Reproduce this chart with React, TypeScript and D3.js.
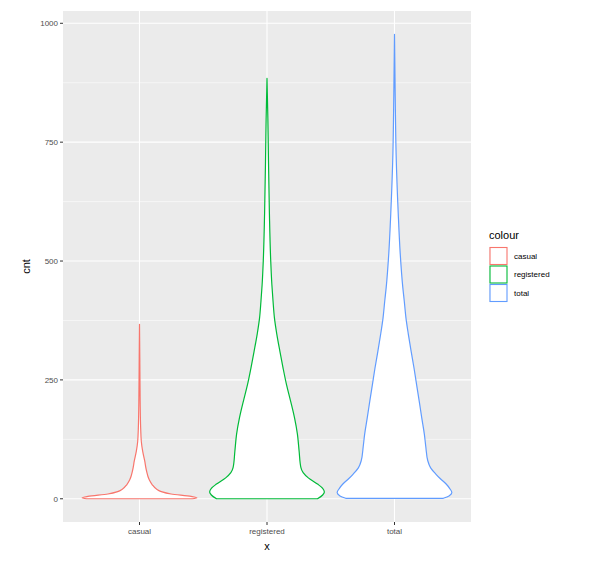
import React from "react";
import * as d3 from "d3";

const categories = ["casual", "registered", "total"];
const colors = ["#F8766D", "#00BA38", "#619CFF"];
const yTicks = [0, 250, 500, 750, 1000];
const yMinorTicks = [125, 375, 625, 875];
const dataMin = 0;
const dataMax = 977;

// density profile: value, relative half-width
const casualVals = [0, 2, 5, 10, 15, 20, 30, 40, 60, 80, 100, 120, 150, 200, 250, 300, 367];
const casualWidth = [0.92, 1.0, 0.9, 0.55, 0.38, 0.3, 0.22, 0.17, 0.12, 0.09, 0.055, 0.032, 0.02, 0.012, 0.008, 0.005, 0];

const registeredVals = [0, 8, 14, 22, 31, 44, 55, 66, 100, 136, 170, 206, 240, 275, 310, 347, 380, 416, 450, 500, 600, 710, 800, 884];
const registeredWidth = [0.88, 0.97, 1.0, 0.97, 0.88, 0.72, 0.63, 0.59, 0.56, 0.53, 0.48, 0.41, 0.34, 0.28, 0.225, 0.17, 0.13, 0.105, 0.085, 0.065, 0.042, 0.026, 0.015, 0];

const totalVals = [1, 6, 13, 22, 31, 42, 52, 65, 80, 110, 136, 170, 206, 240, 275, 310, 347, 380, 416, 444, 515, 600, 725, 850, 977];
const totalWidth = [0.85, 0.95, 1.0, 0.96, 0.9, 0.8, 0.72, 0.63, 0.58, 0.545, 0.52, 0.475, 0.43, 0.385, 0.34, 0.29, 0.24, 0.2, 0.17, 0.145, 0.1, 0.065, 0.028, 0.012, 0];

const profiles = [
  { vals: casualVals, widths: casualWidth },
  { vals: registeredVals, widths: registeredWidth },
  { vals: totalVals, widths: totalWidth },
];

const W = 596;
const H = 569;
const panel = { left: 63, right: 471, top: 11, bottom: 522 };
const font = "'Liberation Sans', Arial, Helvetica, sans-serif";

export default function App() {
  const span = dataMax - dataMin;
  const y = d3
    .scaleLinear()
    .domain([dataMin - span * 0.05, dataMax + span * 0.05])
    .range([panel.bottom, panel.top]);
  const x = d3
    .scalePoint<string>()
    .domain(categories)
    .range([panel.left, panel.right])
    .padding(0.6);
  const halfMax = x.step() * 0.45;

  return (
    <svg
      width={W}
      height={H}
      style={{ position: "absolute", left: 0, top: 0, background: "#fff" }}
      fontFamily={font}
    >
      <rect
        x={panel.left}
        y={panel.top}
        width={panel.right - panel.left}
        height={panel.bottom - panel.top}
        fill="#EBEBEB"
      />
      {yMinorTicks.map((t) => (
        <line key={"mn" + t} x1={panel.left} x2={panel.right} y1={y(t)} y2={y(t)} stroke="#fff" strokeWidth={0.55} />
      ))}
      {yTicks.map((t) => (
        <line key={"mj" + t} x1={panel.left} x2={panel.right} y1={y(t)} y2={y(t)} stroke="#fff" strokeWidth={1.1} />
      ))}
      {categories.map((c) => (
        <line key={"vx" + c} x1={x(c)} x2={x(c)} y1={panel.top} y2={panel.bottom} stroke="#fff" strokeWidth={1.1} />
      ))}
      {categories.map((c, i) => {
        const cx = x(c) as number;
        const p = profiles[i];
        const pts = p.vals.map((v, j) => ({ v, w: p.widths[j] }));
        const area = d3
          .area<{ v: number; w: number }>()
          .y((d) => y(d.v))
          .x0((d) => cx - d.w * halfMax)
          .x1((d) => cx + d.w * halfMax)
          .curve(d3.curveMonotoneY);
        return (
          <path key={"v" + c} d={area(pts) || ""} fill="#fff" stroke={colors[i]} strokeWidth={1.2} strokeLinejoin="round" />
        );
      })}
      {/* y axis */}
      {yTicks.map((t) => (
        <g key={"yt" + t}>
          <line x1={panel.left - 3} x2={panel.left} y1={y(t)} y2={y(t)} stroke="#333" strokeWidth={1} />
          <text x={panel.left - 5} y={y(t)} dy="0.35em" textAnchor="end" fontSize={8} fill="#4D4D4D">
            {t}
          </text>
        </g>
      ))}
      {categories.map((c) => (
        <g key={"xt" + c}>
          <line x1={x(c)} x2={x(c)} y1={panel.bottom} y2={panel.bottom + 3} stroke="#333" strokeWidth={1} />
          <text x={x(c)} y={panel.bottom + 12} textAnchor="middle" fontSize={8} fill="#4D4D4D">
            {c}
          </text>
        </g>
      ))}
      <text x={(panel.left + panel.right) / 2} y={550} textAnchor="middle" fontSize={11} fill="#000">
        x
      </text>
      <text
        transform={`translate(${30},${(panel.top + panel.bottom) / 2}) rotate(-90)`}
        textAnchor="middle"
        fontSize={11}
        fill="#000"
      >
        cnt
      </text>
      {/* legend */}
      <text x={489} y={239} fontSize={11} fill="#000">
        colour
      </text>
      {categories.map((c, i) => {
        const ky = 247 + i * 18.5;
        return (
          <g key={"lg" + c}>
            <rect x={489} y={ky} width={18} height={18} fill="#F2F2F2" />
            <rect x={490} y={ky + 0.5} width={17} height={17} fill="#fff" stroke={colors[i]} strokeWidth={1.1} />
            <text x={514} y={ky + 9} dy="0.35em" fontSize={8} fill="#000">
              {c}
            </text>
          </g>
        );
      })}
    </svg>
  );
}
